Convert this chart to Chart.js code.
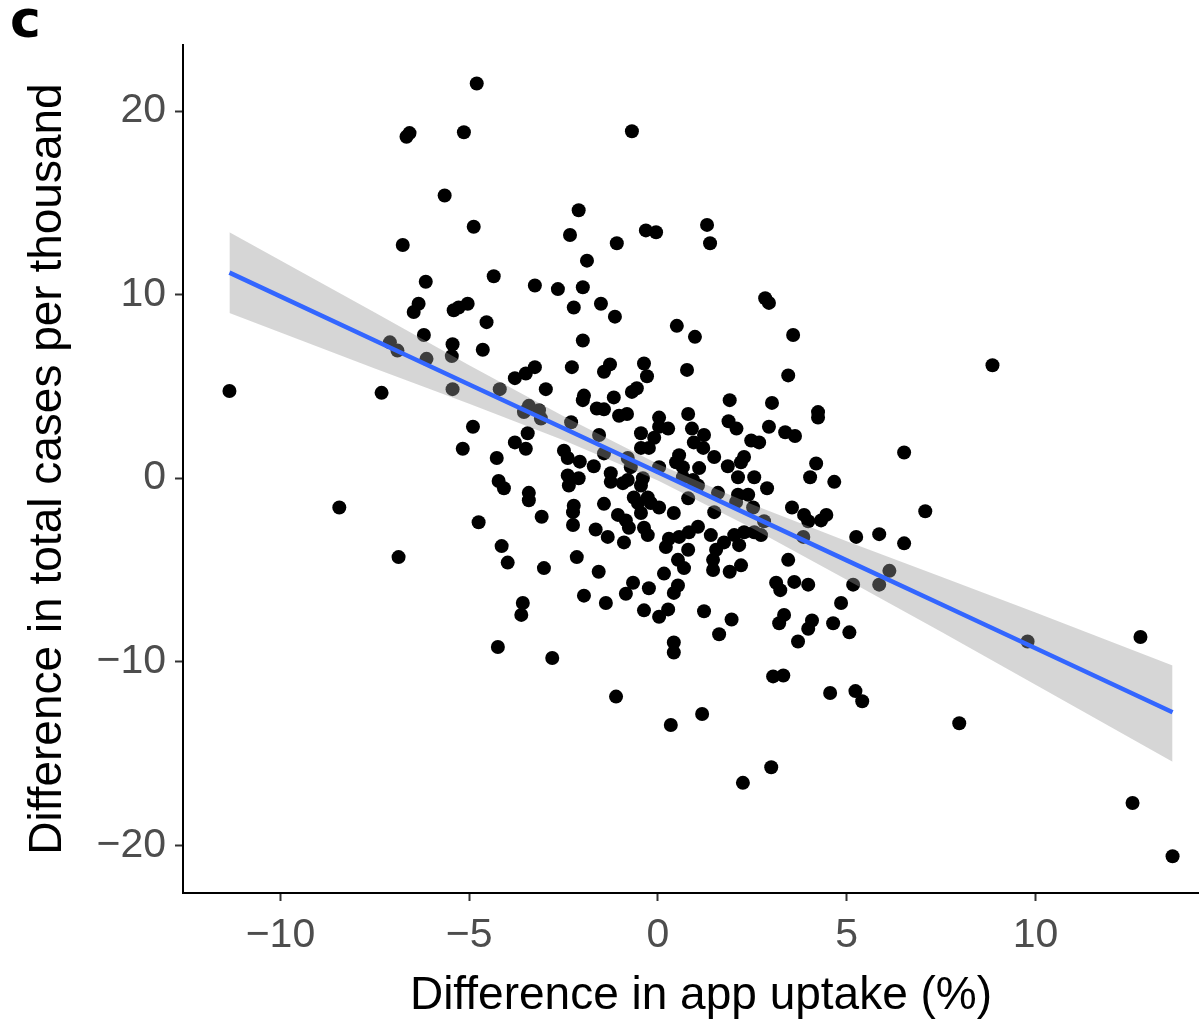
<!DOCTYPE html>
<html>
<head>
<meta charset="utf-8">
<script src="https://cdn.jsdelivr.net/npm/chart.js@4.4.1/dist/chart.umd.min.js"></script>
<style>
  html, body { margin: 0; padding: 0; background: #fff; overflow: hidden; }
  #wrap { width: 1199px; height: 1021px; position: relative; overflow: hidden; }
  #c { display: block; }
</style>
</head>
<body>
<div id="wrap"><canvas id="c" width="1219" height="1021"></canvas></div>
<script>
// ---- data ----
const panelLabel = 'c';
const xTitle = 'Difference in app uptake (%)';
const yTitle = 'Difference in total cases per thousand';
const xTickValues = [-10, -5, 0, 5, 10];
const yTickValues = [-20, -10, 0, 10, 20];

// scatter points: [difference in app uptake, difference in cases per thousand]
const scatterXY = [
  [-4.80,21.5],[-6.58,18.8],[-6.66,18.6],[-5.14,18.85],[-0.69,18.9],[-5.65,15.4],[-4.88,13.7],[-2.10,14.6],
  [-6.76,12.7],[-2.33,13.25],[-1.09,12.8],[-0.32,13.5],[-0.05,13.4],[1.30,13.8],[1.38,12.8],[-1.88,11.85],
  [-11.35,4.75],[-8.44,-1.6],
  [-6.15,10.7],[-4.35,11.0],[-3.26,10.5],[-6.34,9.5],[-6.47,9.05],[-5.04,9.5],[-5.28,9.3],[-5.41,9.15],
  [-4.54,8.5],[-6.2,7.8],[-7.1,7.4],[-6.9,6.95],[-5.44,7.3],[-5.46,6.65],[-4.64,7.0],[-6.13,6.5],
  [-7.32,4.65],[-5.44,4.85],[-4.19,4.85],[-3.26,6.05],[-3.5,5.7],[-3.79,5.45],[-2.97,4.85],[-3.42,3.94],
  [-3.15,3.7],[-3.55,3.6],[-3.1,3.25],[-4.9,2.8],[-3.45,2.45],
  [-2.65,10.3],[-1.99,10.4],[-2.23,9.3],[-1.51,9.5],[-1.14,8.8],[0.5,8.3],[0.98,7.7],[-1.99,7.5],
  [-2.28,6.05],[-1.27,6.2],[-1.43,5.8],[-0.37,6.25],[-0.29,5.55],[0.77,5.9],[-0.56,4.9],[-0.69,4.7],
  [-1.96,4.5],[-1.99,4.25],[-1.17,4.4],[-1.62,3.8],[-1.43,3.75],[-0.82,3.5],[-1.03,3.4],[0.03,3.3],
  [0.03,2.8],[0.27,2.7],[0.8,3.5],[1.9,4.25],[1.87,3.1],[-2.3,3.05],[-1.56,2.35],[-0.45,2.45],[0.9,2.7],[1.22,2.35],
  [2.84,9.8],[2.94,9.55],[3.58,7.8],[3.45,5.6],[3.02,4.1],[4.24,3.6],[4.24,3.3],[2.08,2.7],[2.94,2.8],[3.37,2.5],[3.63,2.3],
  [2.47,2.05],[2.68,1.95],[6.52,1.4],[4.19,0.8],[4.03,0.05],[4.67,-0.2],[2.28,1.15],[2.2,0.87],[1.85,0.65],
  [2.12,0.05],[2.55,0.05],[2.89,-0.55],[2.12,-0.9],[2.39,-0.9],[2.07,-1.3],[2.52,-1.6],[2.81,-2.35],[3.55,-1.6],
  [3.87,-2.0],[3.98,-2.35],[4.46,-2.0],[4.32,-2.3],[3.85,-3.2],[2.02,-3.1],[2.28,-2.95],[2.55,-2.95],[2.73,-3.1],
  [2.15,-3.65],[5.25,-3.2],[5.86,-3.05],[6.52,-3.55],[3.45,-4.45],[2.2,-4.75],[1.9,-5.1],[6.13,-5.05],[5.86,-5.8],
  [5.17,-5.8],[3.13,-5.7],[3.24,-6.1],[3.61,-5.65],[3.98,-5.8],[4.85,-6.8],
  [-1.43,1.35],[-0.24,1.65],[-0.45,1.65],[-0.1,2.2],[-2.49,1.5],[-2.39,1.1],[-2.07,0.9],[-1.7,0.65],[-0.8,1.1],
  [-0.72,0.6],[0.03,0.6],[0.56,1.25],[0.66,0.6],[0.48,0.87],[0.95,1.95],[1.2,1.65],[1.49,1.15],[1.09,0.55],
  [-2.39,0.15],[-2.36,-0.4],[-2.1,0.0],[-1.25,0.27],[-1.25,-0.2],[-0.93,-0.27],[-0.8,-0.1],[-0.4,0.0],[-0.45,-0.4],
  [0.66,0.05],[0.93,-0.1],[1.06,-0.4],[0.8,-1.1],[1.59,-0.8],[1.49,-1.85],[-0.64,-1.05],[-0.53,-1.35],[-0.27,-1.05],
  [-0.19,-1.35],[0.03,-1.6],[-1.43,-1.4],[-2.23,-1.5],[-2.25,-1.85],[-1.06,-2.0],[-0.85,-2.3],[-0.77,-2.7],[-0.45,-1.9],
  [0.42,-1.9],[-2.25,-2.55],[-1.65,-2.8],[-1.33,-3.2],[-0.9,-3.5],[-0.37,-2.7],[-0.27,-3.1],[0.29,-3.3],[0.21,-3.75],
  [0.56,-3.2],[0.82,-2.95],[1.06,-2.65],[0.8,-3.9],[1.4,-3.1],[1.54,-3.9],[1.75,-3.5],[-2.15,-4.3],[0.53,-4.45],
  [0.69,-4.9],[1.46,-4.45],[1.46,-5.0],[-1.57,-5.1],[0.16,-5.2],[-0.66,-5.7],[-0.85,-6.3],[-0.24,-6.0],[0.53,-5.85],
  [0.42,-6.25],[-1.96,-6.4],[-1.38,-6.8],[-0.37,-7.2],[0.27,-7.15],[1.22,-7.25],
  [-5.17,1.6],[-3.79,1.95],[-3.5,1.6],[-4.27,1.1],[-4.22,-0.15],[-4.08,-0.55],[-3.42,-0.8],[-3.42,-1.2],[-4.75,-2.4],
  [-3.08,-2.1],[-6.87,-4.3],[-4.14,-3.7],[-3.98,-4.6],[-3.02,-4.9],[-3.58,-6.8],
  [-3.62,-7.45],[-4.24,-9.2],[-2.8,-9.8],
  [0.03,-7.55],[1.95,-7.7],[1.62,-8.5],[0.42,-8.95],[0.42,-9.5],[-1.11,-11.9],[1.17,-12.85],[0.34,-13.45],
  [3.34,-7.45],[3.21,-7.9],[4.08,-7.75],[3.98,-8.2],[3.71,-8.9],[4.64,-7.9],[5.07,-8.4],[3.05,-10.8],[3.32,-10.75],
  [4.56,-11.7],[5.23,-11.6],[5.41,-12.15],[3.0,-15.75],[2.25,-16.6],
  [8.86,6.15],[7.08,-1.8],[9.79,-8.9],[12.78,-8.65],[7.98,-13.35],[12.57,-17.7],[13.63,-20.6]
];

// linear fit and its confidence band, read at these x positions
const fitX     = [-11.35, -7.5, -5, -2.5, 0, 2.5, 5, 7.5, 10, 13.63];
const fitY     = [11.2, 7.5, 5.1, 2.72, 0.32, -2.08, -4.48, -6.87, -9.27, -12.75];
const bandHigh = [13.4, 9.02, 6.15, 3.37, 0.77, -1.43, -3.43, -5.37, -7.32, -10.2];
const bandLow  = [9.0, 5.98, 4.05, 2.07, -0.13, -2.73, -5.53, -8.37, -11.25, -15.45];

// ---- chart ----
const FONT = '"Liberation Sans", Arial, Helvetica, sans-serif';
const fmt = v => (v < 0 ? '\u2212' + Math.abs(v) : String(v));
const toXY = (xs, ys) => xs.map((x, i) => ({ x: x, y: ys[i] }));

const panelLabelPlugin = {
  id: 'panelLabel',
  afterDraw(chart) {
    const ctx = chart.ctx;
    ctx.save();
    ctx.fillStyle = '#000';
    ctx.font = 'bold 52px "DejaVu Sans", ' + FONT;
    ctx.textBaseline = 'alphabetic';
    ctx.textAlign = 'left';
    ctx.fillText(panelLabel, 10, 37);
    ctx.restore();
  }
};

new Chart(document.getElementById('c'), {
  type: 'scatter',
  data: {
    datasets: [
      { label: 'fit', type: 'line', data: toXY(fitX, fitY), borderColor: '#3366FF', borderWidth: 4.5,
        pointRadius: 0, fill: false, tension: 0, order: 1 },
      { label: 'upper', type: 'line', data: toXY(fitX, bandHigh), borderColor: 'rgba(0,0,0,0)', borderWidth: 0,
        pointRadius: 0, fill: '+1', backgroundColor: 'rgba(153,153,153,0.4)', tension: 0, order: 2 },
      { label: 'lower', type: 'line', data: toXY(fitX, bandLow), borderColor: 'rgba(0,0,0,0)', borderWidth: 0,
        pointRadius: 0, fill: false, tension: 0, order: 2 },
      { label: 'points', data: scatterXY.map(p => ({ x: p[0], y: p[1] })), pointRadius: 7,
        backgroundColor: '#000', borderWidth: 0, order: 3 }
    ]
  },
  options: {
    responsive: false,
    animation: false,
    layout: { autoPadding: false, padding: { top: 45, right: 0, left: 0, bottom: 0 } },
    plugins: { legend: { display: false }, tooltip: { enabled: false } },
    scales: {
      x: {
        type: 'linear', min: -12.58, max: 14.86,
        afterBuildTicks: s => { s.ticks = xTickValues.map(v => ({ value: v })); },
        afterFit: s => { s.height = 128; },
        ticks: { callback: v => fmt(v), color: '#4D4D4D', font: { family: FONT, size: 41 }, padding: 10,
                 maxRotation: 0, autoSkip: false },
        grid: { display: true, drawOnChartArea: false, drawTicks: true, tickLength: 8, tickColor: '#333333', tickWidth: 2 },
        border: { display: true, color: '#000', width: 2 },
        title: { display: true, text: xTitle, color: '#000', font: { family: FONT, size: 46, lineHeight: 1.05 },
                 padding: { top: 0, bottom: 1 } }
      },
      y: {
        type: 'linear', min: -22.6, max: 23.6,
        afterBuildTicks: s => { s.ticks = yTickValues.map(v => ({ value: v })); },
        afterFit: s => { s.width = 183; },
        ticks: { callback: v => fmt(v), color: '#4D4D4D', font: { family: FONT, size: 41 }, padding: 9, autoSkip: false },
        grid: { display: true, drawOnChartArea: false, drawTicks: true, tickLength: 8, tickColor: '#333333', tickWidth: 2 },
        border: { display: true, color: '#000', width: 2 },
        title: { display: true, text: yTitle, color: '#000', font: { family: FONT, size: 46, lineHeight: 1.1 },
                 padding: { top: 23, bottom: 0 } }
      }
    }
  },
  plugins: [panelLabelPlugin]
});
</script>
</body>
</html>
